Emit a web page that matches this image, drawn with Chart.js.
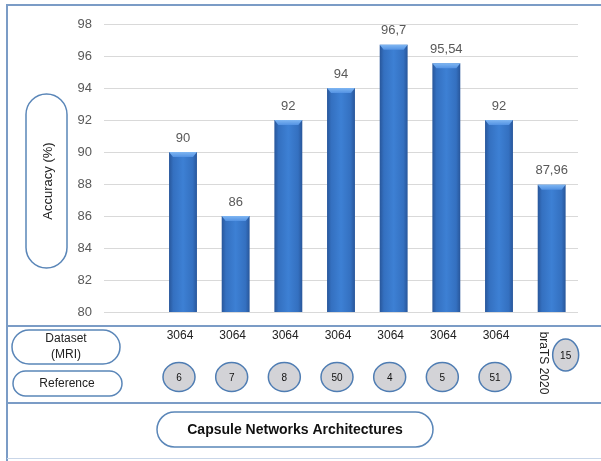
<!DOCTYPE html>
<html>
<head>
<meta charset="utf-8">
<script src="https://cdn.jsdelivr.net/npm/chart.js@4"></script>
<style>
  body { margin: 0; background: #fff; }
  #wrap { width: 601px; height: 461px; position: relative; }
</style>
</head>
<body>
<div id="wrap"><canvas id="accuracyChart"></canvas></div>
<script>
// first slot is left empty so the bars start one step in from the axis
var references = ["", "6", "7", "8", "50", "4", "5", "51", "15"];
var datasets = ["", "3064", "3064", "3064", "3064", "3064", "3064", "3064", "braTS 2020"];
var accuracy = [null, 90, 86, 92, 94, 96.7, 95.54, 92, 87.96];
var yTicks = [80, 82, 84, 86, 88, 90, 92, 94, 96, 98];

var FONT = "'Liberation Sans', Arial, sans-serif";
var LINE = "#7b9cc6";
var PILL = "#5a86b8";
var BAR_PCT = 0.53;

function pill(ctx, x, y, w, h) {
  var r = Math.min(w, h) / 2;
  ctx.beginPath();
  ctx.roundRect(x, y, w, h, r);
  ctx.fillStyle = "#fff";
  ctx.fill();
  ctx.lineWidth = 1.5;
  ctx.strokeStyle = PILL;
  ctx.stroke();
}

function bubble(ctx, x, y, rx, ry, text) {
  ctx.beginPath();
  ctx.ellipse(x, y, rx, ry, 0, 0, Math.PI * 2);
  ctx.fillStyle = "#d3d3d7";
  ctx.fill();
  ctx.lineWidth = 1.5;
  ctx.strokeStyle = "#4f7db3";
  ctx.stroke();
  ctx.fillStyle = "#111";
  ctx.font = "10px " + FONT;
  ctx.textAlign = "center";
  ctx.textBaseline = "middle";
  ctx.fillText(text, x, y + 1);
}

function fmt(v) {
  return String(v).replace(".", ",");
}

var barStyle = {
  id: "barStyle",
  afterDatasetsDraw: function(chart) {
    var ctx = chart.ctx;
    var meta = chart.getDatasetMeta(0);
    ctx.save();
    meta.data.forEach(function(bar, i) {
      if (accuracy[i] == null) return;
      var p = bar.getProps(["x", "y", "base", "width"], true);
      var l = p.x - p.width / 2, r = p.x + p.width / 2;
      // bevelled top edge
      var g = ctx.createLinearGradient(0, p.y, 0, p.y + 6);
      g.addColorStop(0, "#7fb6f2");
      g.addColorStop(1, "#4a8be0");
      ctx.beginPath();
      ctx.moveTo(l, p.y);
      ctx.lineTo(r, p.y);
      ctx.lineTo(r - 4, p.y + 5);
      ctx.lineTo(l + 4, p.y + 5);
      ctx.closePath();
      ctx.fillStyle = g;
      ctx.fill();
      // darker foot of the bar
      ctx.fillStyle = "rgba(30,60,110,0.45)";
      ctx.fillRect(l + 2, p.base - 3, p.width - 4, 3);
      // value label
      ctx.fillStyle = "#595959";
      ctx.font = "13px " + FONT;
      ctx.textAlign = "center";
      ctx.textBaseline = "middle";
      ctx.fillText(fmt(accuracy[i]), p.x, p.y - 14);
    });
    ctx.restore();
  }
};

var panel = {
  id: "panel",
  afterDraw: function(chart) {
    var ctx = chart.ctx;
    var xs = chart.scales.x;
    ctx.save();

    // outer frame and row dividers
    ctx.strokeStyle = LINE;
    ctx.lineWidth = 2;
    ctx.beginPath();
    ctx.moveTo(7, 461);
    ctx.lineTo(7, 5);
    ctx.lineTo(601, 5);
    ctx.moveTo(7, 326);
    ctx.lineTo(601, 326);
    ctx.moveTo(7, 403);
    ctx.lineTo(601, 403);
    ctx.stroke();
    ctx.strokeStyle = "#c9d6e8";
    ctx.lineWidth = 1;
    ctx.beginPath();
    ctx.moveTo(7, 458.5);
    ctx.lineTo(601, 458.5);
    ctx.stroke();

    // y axis title
    pill(ctx, 26, 94, 41, 174);
    ctx.save();
    ctx.translate(48, 181);
    ctx.rotate(-Math.PI / 2);
    ctx.fillStyle = "#222";
    ctx.font = "13px " + FONT;
    ctx.textAlign = "center";
    ctx.textBaseline = "middle";
    ctx.fillText("Accuracy (%)", 0, 0);
    ctx.restore();

    // row headers
    pill(ctx, 12, 330, 108, 34);
    pill(ctx, 13, 371, 109, 25);
    ctx.fillStyle = "#222";
    ctx.font = "12px " + FONT;
    ctx.textAlign = "center";
    ctx.textBaseline = "middle";
    ctx.fillText("Dataset", 66, 339);
    ctx.fillText("(MRI)", 66, 355);
    ctx.fillText("Reference", 67, 384);

    // x axis title
    pill(ctx, 157, 412, 276, 35);
    ctx.fillStyle = "#111";
    ctx.font = "bold 14px " + FONT;
    ctx.fillText("Capsule Networks Architectures", 295, 430);

    // dataset and reference rows
    for (var i = 1; i < references.length; i++) {
      var x = xs.getPixelForValue(i);
      if (i === references.length - 1) {
        ctx.save();
        ctx.translate(x - 8, 363);
        ctx.rotate(Math.PI / 2);
        ctx.fillStyle = "#222";
        ctx.font = "12px " + FONT;
        ctx.textAlign = "center";
        ctx.textBaseline = "middle";
        ctx.fillText(datasets[i], 0, 0);
        ctx.restore();
        bubble(ctx, x + 14, 355, 13, 16, references[i]);
      } else {
        ctx.fillStyle = "#222";
        ctx.font = "12px " + FONT;
        ctx.textAlign = "center";
        ctx.textBaseline = "middle";
        ctx.fillText(datasets[i], x - 3, 336);
        bubble(ctx, x - 4, 377, 16, 14.5, references[i]);
      }
    }
    ctx.restore();
  }
};

new Chart(document.getElementById("accuracyChart"), {
  type: "bar",
  data: {
    labels: references,
    datasets: [{
      data: accuracy,
      backgroundColor: function(c) {
        var ch = c.chart;
        if (!ch.chartArea || c.dataIndex == null) return "#3a78c8";
        var xs = ch.scales.x;
        var x = xs.getPixelForValue(c.dataIndex);
        var half = xs.width / references.length * BAR_PCT / 2;
        var g = ch.ctx.createLinearGradient(x - half, 0, x + half, 0);
        g.addColorStop(0, "#28569a");
        g.addColorStop(0.15, "#3470c0");
        g.addColorStop(0.5, "#3d80d4");
        g.addColorStop(0.85, "#3470c0");
        g.addColorStop(1, "#28569a");
        return g;
      },
      borderWidth: 0,
      barPercentage: BAR_PCT,
      categoryPercentage: 1
    }]
  },
  options: {
    responsive: true,
    maintainAspectRatio: false,
    animation: false,
    layout: { padding: { left: 64, right: 23, top: 24, bottom: 149 } },
    plugins: {
      legend: { display: false },
      tooltip: { enabled: false }
    },
    scales: {
      x: {
        grid: { display: false },
        border: { display: false },
        ticks: { display: false },
        afterFit: function(s) { s.height = 0; }
      },
      y: {
        min: yTicks[0],
        max: yTicks[yTicks.length - 1],
        afterFit: function(s) { s.width = 40; },
        afterBuildTicks: function(s) {
          s.ticks = yTicks.map(function(v) { return { value: v }; });
        },
        grid: { color: "#d9d9d9", drawTicks: false },
        border: { display: false },
        ticks: {
          padding: 12,
          color: "#595959",
          font: { family: FONT, size: 13 }
        }
      }
    }
  },
  plugins: [barStyle, panel]
});
</script>
</body>
</html>
